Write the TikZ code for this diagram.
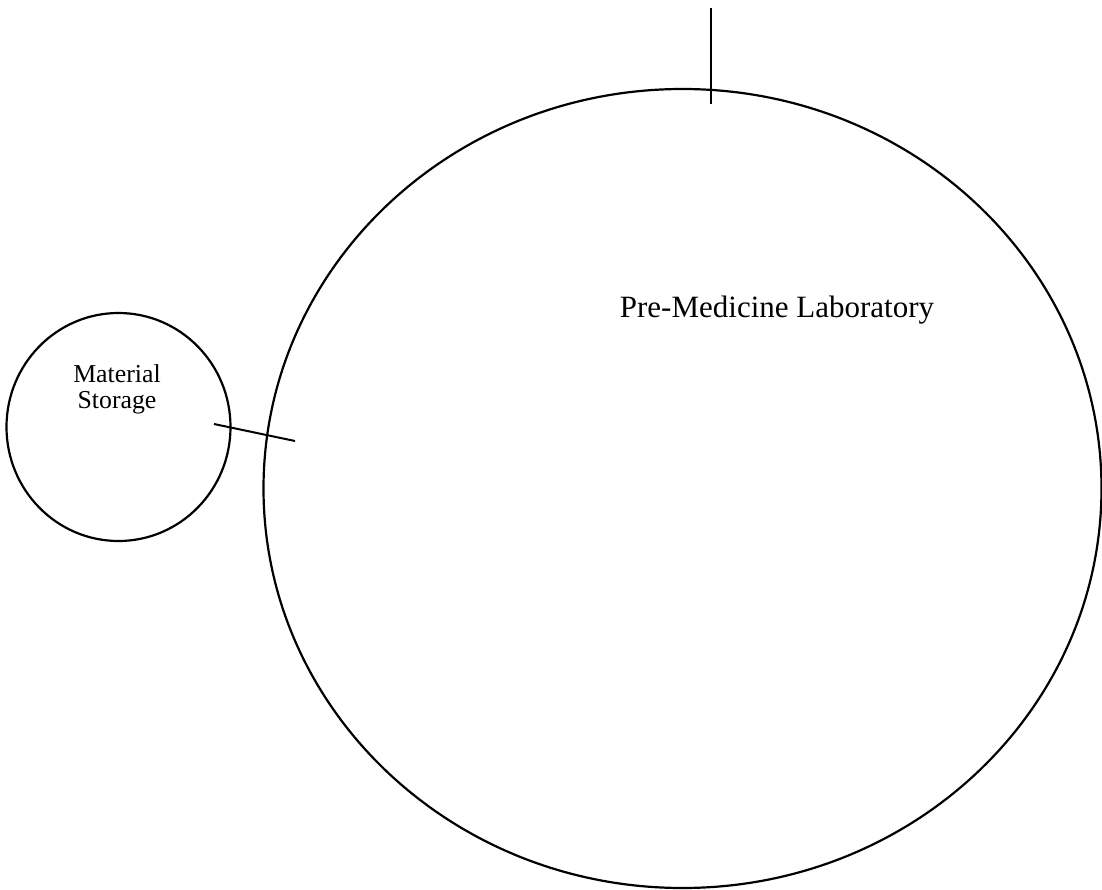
\documentclass[tikz,border=0pt]{standalone}
\usepackage{fontspec}
\setmainfont{Liberation Serif}
\usetikzlibrary{shapes.geometric}
\begin{document}
\begin{tikzpicture}[x=1pt,y=-1pt,
  room/.style={draw=black,line width=2.2pt,ellipse,inner sep=0pt,outer sep=0pt},
  door/.style={draw=black,line width=2pt},
  biglabel/.style={font=\fontsize{31}{34}\selectfont,inner sep=0pt,anchor=base},
  smalllabel/.style={font=\fontsize{25.8}{26}\selectfont,inner sep=0pt,align=center,anchor=base}]
\useasboundingbox (0,0) rectangle (1102,890);
\node[room,minimum width=838pt,minimum height=799pt] (lab) at (682.5,488.5) {};
\node[room,minimum width=224pt,minimum height=228pt] (store) at (118.5,427) {};
\node[biglabel] (labtext) at (777,318) {Pre-Medicine Laboratory};
\node[smalllabel] (mat) at (117,382) {Material};
\node[smalllabel] (sto) at (117,408) {Storage};
\coordinate (topA) at (710.5,8);
\coordinate (topB) at (710.5,104);
\coordinate (sideA) at (214,424);
\coordinate (sideB) at (295,441);
\draw[door] (topA) -- (topB);
\draw[door] (sideA) -- (sideB);
\end{tikzpicture}
\end{document}
